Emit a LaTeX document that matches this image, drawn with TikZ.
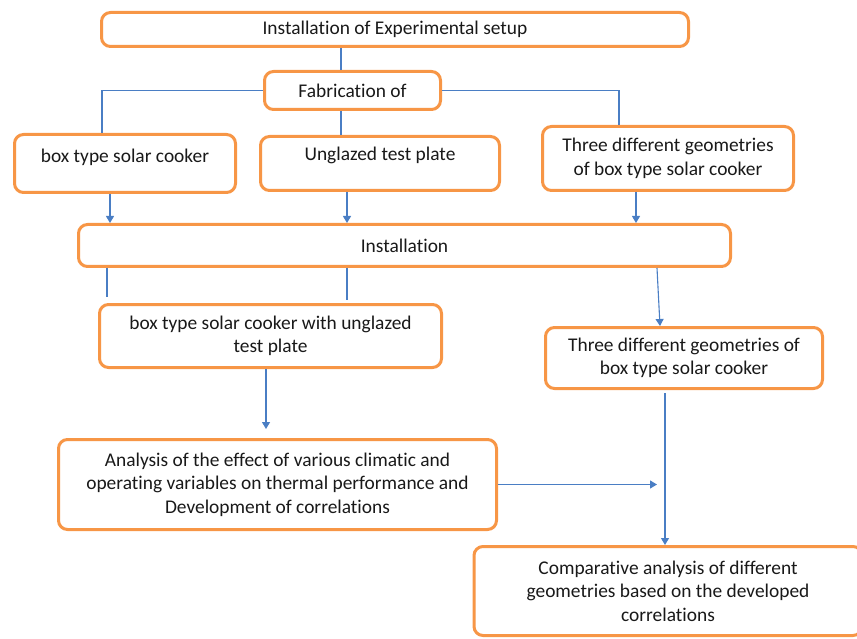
\documentclass[tikz,border=0pt]{standalone}
\usepackage{fontspec}
\setmainfont{Carlito}[Ligatures=NoCommon]
\usetikzlibrary{arrows.meta,calc}
\definecolor{boxorange}{RGB}{247,150,70}
\definecolor{linkblue}{RGB}{74,126,196}

\tikzset{
  stagebox/.style={draw=boxorange, line width=3pt, rounded corners=9pt, fill=white,
    align=center, inner sep=0pt, font=\fontsize{19.4}{23.5}\selectfont, text=black!90},
  link/.style={draw=linkblue, line width=1.1pt},
  arrowlink/.style={link, -{Triangle[width=8pt,length=7pt]}},
}

\begin{document}
\begin{tikzpicture}[x=1pt,y=-1pt]
        \useasboundingbox (0,0) rectangle (857,639);

        % column lines
        \coordinate (c102) at (102,0);
        \coordinate (c107) at (107,0);
        \coordinate (c110) at (110,0);
        \coordinate (c266) at (266,0);
        \coordinate (c341) at (341,0);
        \coordinate (c347) at (347,0);
        \coordinate (c619) at (619,0);
        \coordinate (c636) at (636,0);
        \coordinate (c657) at (657,0);
        \coordinate (c660) at (660,0);
        \coordinate (c665) at (665,0);

        % first row
        \node[stagebox, minimum width=587pt, minimum height=34pt] (setup) at (395,29.5) {Installation of Experimental setup};
        \node[stagebox, minimum width=176pt, minimum height=38pt] (fab) at (352.5,90.5) {Fabrication of};

        % fabricated parts
        \node[stagebox, text depth=16pt, minimum width=221pt, minimum height=58pt] (cooker) at (125,163.5) {box type solar cooker};
        \node[stagebox, text depth=19pt, minimum width=239pt, minimum height=54pt] (plate) at (380,163.5) {Unglazed test plate};
        \node[stagebox, minimum width=251pt, minimum height=64pt] (geom) at (668,158.5) {Three different geometries\\of box type solar cooker};

        % installation
        \node[stagebox, minimum width=652pt, minimum height=42pt] (inst) at (404.5,245.5) {Installation};
        \node[stagebox, minimum width=342pt, minimum height=63pt] (withplate) at (270.5,336) {box type solar cooker with unglazed\\test plate};
        \node[stagebox, minimum width=277pt, minimum height=61pt] (geomb) at (684,358) {Three different geometries of\\box type solar cooker};

        % analysis
        \node[stagebox, minimum width=438pt, minimum height=90pt] (analysis) at (277.5,484.5) {Analysis of the effect of various climatic and\\operating variables on thermal performance and\\Development of correlations};
        \node[stagebox, minimum width=388pt, minimum height=89pt] (comp) at (668,591) {Comparative analysis of different\\geometries based on the developed\\correlations};

        % connectors
        \draw[link] (setup.south -| c341) -- (fab.north -| c341);
        \draw[link] (fab.west) -| (cooker.north -| c102);
        \draw[link] (fab.south -| c341) -- (plate.north -| c341);
        \draw[link] (fab.east) -| (geom.north -| c619);

        \draw[arrowlink] (cooker.south -| c110) -- (inst.north -| c110);
        \draw[arrowlink] (plate.south -| c347) -- (inst.north -| c347);
        \draw[arrowlink] (geom.south -| c636) -- (inst.north -| c636);

        \draw[link, shorten >=6pt] (inst.south -| c107) -- (withplate.north -| c107);
        \draw[link, shorten >=3pt] (inst.south -| c347) -- (withplate.north -| c347);
        \draw[arrowlink] (inst.south -| c657) -- (geomb.north -| c660);

        \draw[arrowlink, shorten >=9pt] (withplate.south -| c266) -- (analysis.north -| c266);
        \draw[arrowlink, shorten <=3pt] (geomb.south -| c665) -- (comp.north -| c665);
        \draw[arrowlink] (analysis.east) -- (analysis.east -| c657);

    \end{tikzpicture}
\end{document}
